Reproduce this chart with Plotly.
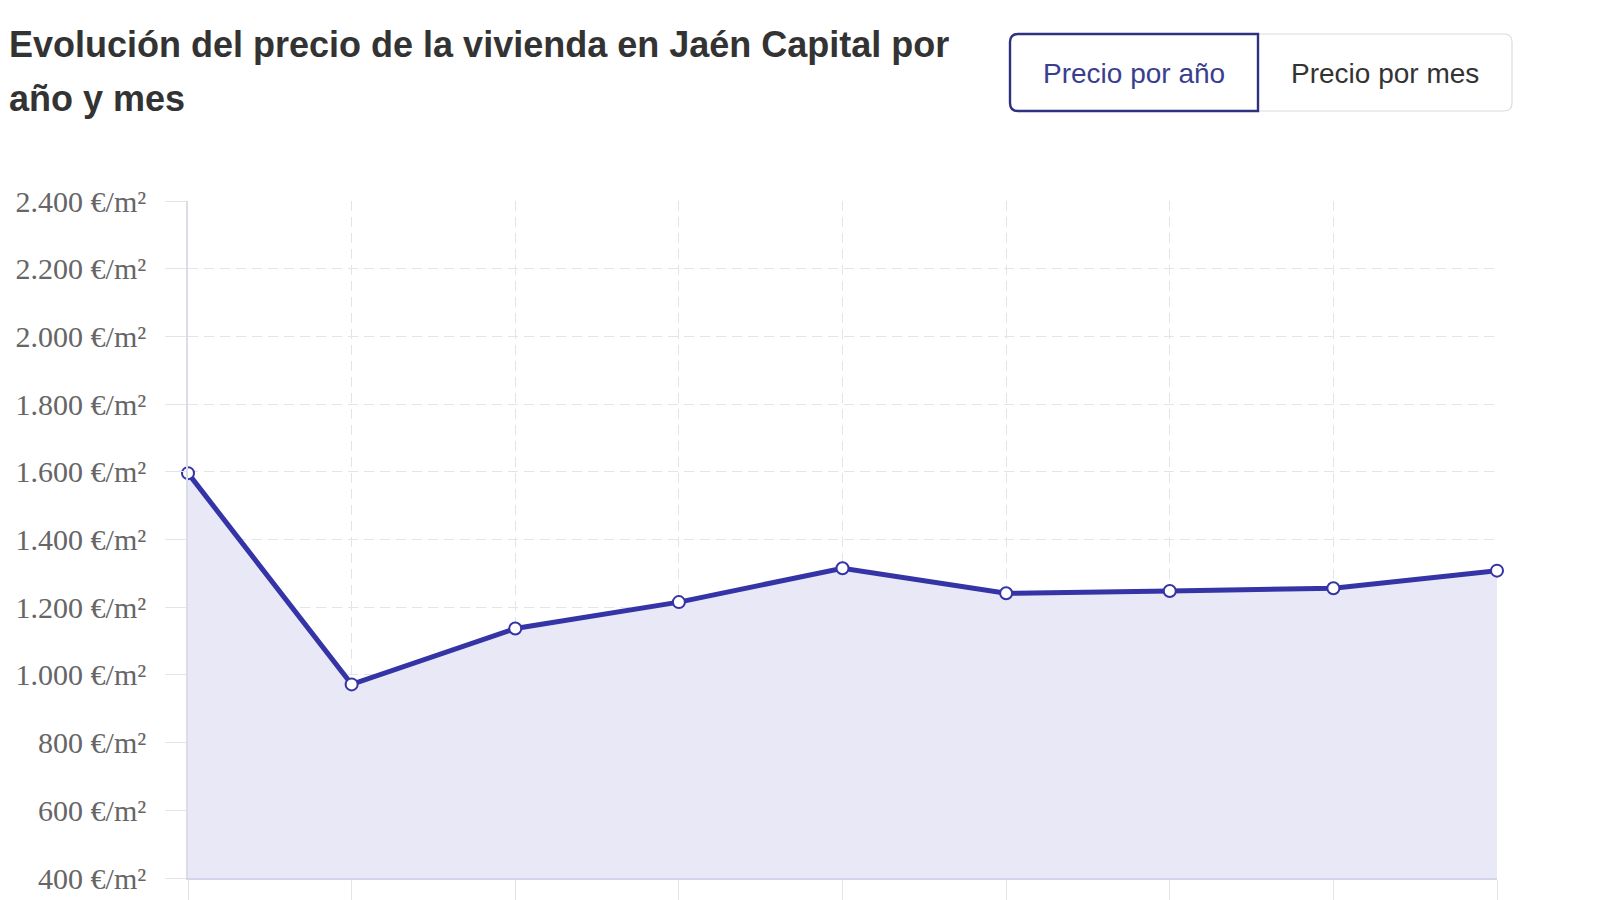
import plotly.graph_objects as go

# Datos: precio medio por año (€/m²)
anios = ['2016', '2017', '2018', '2019', '2020', '2021', '2022', '2023', '2024']
precios = [1596, 972, 1137, 1215, 1315, 1241, 1248, 1256, 1308]

y_ticks = list(range(400, 2401, 200))
y_labels = [f"{v:,}".replace(",", ".") + " €/m²" for v in y_ticks]

# la página tiene 8px de margen en el body: se compensa
OFF = 8
W, H = 1600 - OFF, 900 - OFF
ML, MR, MT, MB = 188 - OFF, 103, 201 - OFF, 22
PW, PH = W - ML - MR, H - MT - MB


def px(x, y):
    # pixel de pantalla -> coordenadas paper
    return (x - OFF - ML) / PW, (H - MB - (y - OFF)) / PH


def rounded_box(x0, y0, x1, y1, r, left=True, right=True):
    # path SVG en coordenadas paper con esquinas redondeadas
    rl = r if left else 0
    rr = r if right else 0

    def P(x, y):
        a, b = px(x, y)
        return f"{a:.5f},{b:.5f}"
    d = f"M {P(x0 + rl, y0)} L {P(x1 - rr, y0)} "
    d += f"Q {P(x1, y0)} {P(x1, y0 + rr)} " if rr else ""
    d += f"L {P(x1, y1 - rr)} "
    d += f"Q {P(x1, y1)} {P(x1 - rr, y1)} " if rr else ""
    d += f"L {P(x0 + rl, y1)} "
    d += f"Q {P(x0, y1)} {P(x0, y1 - rl)} " if rl else ""
    d += f"L {P(x0, y0 + rl)} "
    d += f"Q {P(x0, y0)} {P(x0 + rl, y0)} " if rl else ""
    return d + "Z"


fig = go.Figure()

fig.add_trace(go.Scatter(
    x=list(range(len(anios))), y=precios, mode='lines+markers',
    fill='tozeroy', fillcolor='rgba(232,232,247,1)',
    line=dict(color='#3434a6', width=5),
    marker=dict(color='white', size=12, line=dict(color='#3434a6', width=2)),
    text=anios, hovertemplate='%{text}: %{y} €/m²<extra></extra>',
    showlegend=False, cliponaxis=False
))

# botones (decorativos)
fig.add_shape(type='path', xref='paper', yref='paper',
              path=rounded_box(1258, 34, 1512, 111, 8, left=False),
              line=dict(color='#dcdcdc', width=1.2), fillcolor='white', layer='above')
fig.add_shape(type='path', xref='paper', yref='paper',
              path=rounded_box(1010, 34, 1258, 111, 8, right=False),
              line=dict(color='#2d3180', width=2.4), fillcolor='white', layer='above')

bx1, by = px(1134, 73)
bx2, _ = px(1385, 73)
t1x, t1y = px(OFF, 44)
t2x, t2y = px(OFF, 99)

annots = [
    dict(x=bx1, y=by, text='Precio por año', font=dict(size=28, color='#3a3e8e')),
    dict(x=bx2, y=by, text='Precio por mes', font=dict(size=28, color='#333333')),
]
for a in annots:
    a.update(xref='paper', yref='paper', showarrow=False, xanchor='center', yanchor='middle')
    a['font']['family'] = 'Liberation Sans, Arial, sans-serif'

title_font = dict(family='Liberation Sans, Arial, sans-serif', size=36, color='#333333')
annots += [
    dict(x=t1x, y=t1y, text='<b>Evolución del precio de la vivienda en Jaén Capital por</b>',
         xref='paper', yref='paper', showarrow=False, xanchor='left', yanchor='middle',
         font=title_font, borderpad=0),
    dict(x=t2x, y=t2y, text='<b>año y mes</b>',
         xref='paper', yref='paper', showarrow=False, xanchor='left', yanchor='middle',
         font=title_font, borderpad=0),
]

fig.update_layout(
    width=W, height=H,
    margin=dict(l=ML, r=MR, t=MT, b=MB),
    plot_bgcolor='white', paper_bgcolor='white',
    annotations=annots,
    xaxis=dict(
        range=[0, len(anios) - 1], tickmode='array', tickvals=list(range(len(anios))),
        showticklabels=False, ticks='outside', ticklen=24, tickcolor='#e3e3e8', tickwidth=1,
        showgrid=True, gridcolor='#e3e3e8', griddash='10px,6px', gridwidth=1,
        zeroline=False, showline=True, linecolor='#d4d4ea', linewidth=1.5,
        automargin=False,
    ),
    yaxis=dict(
        range=[400, 2400], tickmode='array', tickvals=y_ticks, ticktext=y_labels,
        ticks='outside', ticklen=21, tickcolor='#e3e3e8', ticklabelstandoff=13,
        tickfont=dict(family='Liberation Serif, Times New Roman, serif', size=30, color='#666666'),
        showgrid=True, gridcolor='#e3e3e8', griddash='10px,6px', gridwidth=1,
        zeroline=False, showline=True, linecolor='#dcdce6', linewidth=1.5,
        automargin=False,
    ),
)

fig.write_html("out.html")
